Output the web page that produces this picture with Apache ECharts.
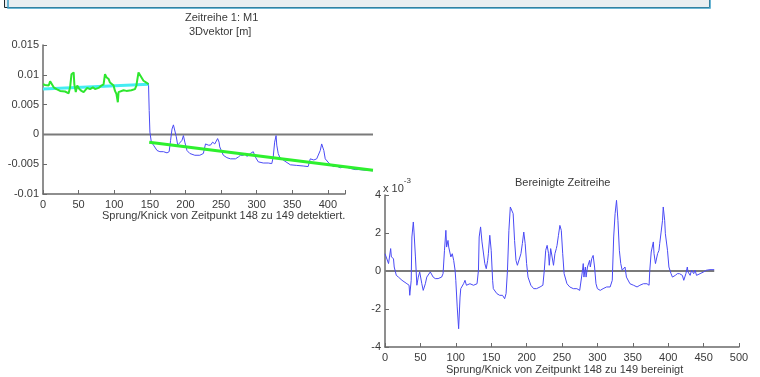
<!DOCTYPE html>
<html>
<head>
<meta charset="utf-8">
<script src="https://cdn.jsdelivr.net/npm/echarts@6/dist/echarts.min.js"></script>
<style>
  html, body { margin: 0; padding: 0; background: #fff; }
  #main { width: 760px; height: 377px; }
</style>
</head>
<body>
<div id="main"></div>
<script>
// linkes Diagramm: Segment 1 (0..148), Rohdaten gruen
const segOneData = [
  [0, 0.0084], [3, 0.0083], [5, 0.0086], [8, 0.0082], [10, 0.0089], [12, 0.0086], [15, 0.0079],
  [19, 0.0076], [24, 0.0073], [31, 0.0072], [36, 0.0069], [38, 0.0079], [40, 0.0101], [43, 0.0104],
  [44, 0.0084], [46, 0.0071], [48, 0.0082], [51, 0.0076], [54, 0.0073], [57, 0.0071], [59, 0.0074],
  [62, 0.0078], [66, 0.0076], [70, 0.0079], [73, 0.0076], [78, 0.0078], [80, 0.0079], [82, 0.0082],
  [85, 0.0084], [87, 0.0101], [89, 0.0096], [92, 0.0093], [94, 0.0087], [99, 0.0082], [101, 0.0073],
  [103, 0.0068], [105, 0.0054], [106, 0.0071], [108, 0.0073], [113, 0.0074], [117, 0.0073],
  [124, 0.0074], [129, 0.0076], [131, 0.0082], [134, 0.0104], [136, 0.0101], [138, 0.0096],
  [141, 0.009], [145, 0.0087], [147, 0.0086], [148, 0.0084]
];
// Segment 2 (148..463), Rohdaten blau
const segTwoData = [
  [148, 0.0086], [149, 0.004], [150, 0.0004], [152, -0.0013], [155, -0.0018], [160, -0.0027],
  [164, -0.0029], [169, -0.0029], [174, -0.0031], [177, -0.0029], [179, -0.001], [181, 0.0009],
  [183, 0.0016], [185, 0.0015], [187, -0.0004], [189, -0.0018], [191, -0.0018], [195, -0.001],
  [197, -0.0002], [199, -0.0013], [202, -0.0027], [206, -0.0032], [213, -0.0035], [220, -0.0035],
  [225, -0.0032], [228, -0.0016], [230, -0.0013], [232, -0.0018], [234, -0.0016], [235, -0.0018],
  [238, -0.0013], [241, -0.0016], [245, -0.0007], [247, -0.0013], [248, -0.0021], [253, -0.0035],
  [258, -0.0039], [263, -0.0041], [270, -0.0041], [274, -0.0038], [277, -0.0035], [281, -0.0035],
  [284, -0.0032], [286, -0.0037], [288, -0.0035], [291, -0.0032], [293, -0.0035], [295, -0.0029],
  [298, -0.0038], [302, -0.0046], [309, -0.0048], [316, -0.0048], [321, -0.0049], [323, -0.0038],
  [325, -0.0013], [327, -0.0002], [328, -0.0018], [330, -0.0032], [332, -0.0038], [337, -0.0043],
  [347, -0.0051], [356, -0.0052], [365, -0.0053], [372, -0.0054], [375, -0.0041], [377, -0.0038],
  [380, -0.0043], [384, -0.0041], [389, -0.0027], [391, -0.0016], [394, -0.0027], [396, -0.0041],
  [401, -0.0048], [405, -0.0052], [408, -0.0054], [412, -0.0053], [417, -0.0056], [419, -0.0057],
  [424, -0.0054], [431, -0.0057], [438, -0.0059], [443, -0.0059], [452, -0.006], [463, -0.0061]
];
// Trendgeraden
const fitOneData = [[0, 0.0076], [148, 0.0084]];
const fitTwoData = [[149, -0.0013], [463, -0.006]];
const zeroLeft = [[0, 0], [463, 0]];
const zeroRight = [[0, 0], [465, 0]];

// rechtes Diagramm: bereinigte Zeitreihe (x 10^-3)
const cleanData = [
  [0, 0.91], [2, 0.82], [5, 0.39], [6, 0.3], [8, 1.18], [9, 0.74], [12, 0.65], [13, 0.21], [16, -0.23],
  [19, -0.32], [24, -0.49], [31, -0.67], [34, -0.75], [35, -1.28], [37, -0.49], [38, 1.79], [40, 2.58],
  [41, 2.05], [43, 0.74], [45, -0.75], [47, -0.32], [49, -0.05], [52, -0.67], [54, -1.02], [57, -0.67],
  [59, -0.32], [64, -0.05], [66, 0.04], [68, -0.32], [71, -0.4], [75, -0.4], [80, -0.32], [82, -0.14],
  [84, 1.09], [86, 2.14], [87, 1.26], [89, 1.61], [90, 1.26], [93, 0.74], [95, 0.91], [97, 0.56],
  [99, 0.04], [100, -0.49], [102, -1.89], [104, -3.04], [106, -1.37], [107, -0.93], [111, -0.67],
  [113, -0.49], [115, -0.75], [120, -0.67], [125, -0.75], [130, -0.67], [132, 0.04], [133, 1.79],
  [135, 2.32], [137, 1.53], [139, 1.44], [141, 0.39], [143, 0.12], [145, 0.56], [146, 0.91], [148, 1.88],
  [150, 1.09], [152, -0.49], [153, -0.93], [158, -1.19], [162, -1.28], [166, -1.28], [169, -1.46],
  [171, -1.19], [173, 0.04], [175, 2.14], [177, 3.37], [179, 3.37], [181, 3.02], [183, 1.61], [185, 0.56],
  [187, 0.3], [189, 0.39], [192, 0.91], [194, 1.44], [196, 2.05], [198, 1.44], [200, 0.39], [202, -0.32],
  [206, -0.75], [210, -0.93], [214, -0.93], [219, -0.84], [223, -0.75], [225, 0.04], [227, 1.09],
  [229, 1.35], [231, 0.91], [232, 0.3], [234, 1.18], [236, 1.09], [238, 0.3], [240, 0.91], [242, 1.18],
  [243, 1.35], [245, 1.88], [247, 2.4], [249, 2.14], [251, 0.91], [253, -0.14], [257, -0.67], [261, -0.84],
  [266, -0.93], [271, -0.93], [275, -1.02], [277, -1.11], [279, 0.04], [280, 0.39], [281, -0.32],
  [283, 0.21], [284, -0.32], [286, 0.21], [289, 0.56], [290, 0.21], [292, 0.65], [294, 0.82], [296, 0.21],
  [298, -0.67], [300, -0.93], [304, -1.02], [308, -0.93], [313, -0.84], [315, -0.75], [318, -0.84],
  [321, -0.49], [323, 1.79], [325, 3.02], [327, 3.72], [329, 2.67], [331, 1.09], [333, 0.39], [335, 0.04],
  [337, 0.12], [339, 0.21], [341, -0.32], [346, -0.67], [351, -0.75], [356, -0.84], [360, -0.75],
  [365, -0.67], [370, -0.67], [373, -0.75], [374, 0.04], [376, 1.0], [378, 0.91], [379, 1.53], [380, 0.91],
  [382, 0.39], [385, 0.91], [387, 1.09], [388, 1.44], [390, 2.05], [392, 2.67], [393, 3.37], [395, 2.67],
  [396, 1.96], [399, 1.09], [401, 0.21], [404, -0.14], [406, -0.32], [410, -0.23], [413, -0.14],
  [416, -0.14], [418, -0.05], [420, -0.23], [422, -0.49], [425, -0.14], [427, 0.21], [428, -0.05],
  [431, -0.23], [433, 0.04], [436, -0.14], [438, 0.04], [440, -0.23], [445, -0.14], [450, -0.05],
  [454, 0.04], [459, 0.07], [465, 0.07]
];

const FONT = 'Liberation Sans, Arial, sans-serif';
const TXT = '#3a3a3a';
const AXIS = '#6a6a6a';

const chart = echarts.init(document.getElementById('main'));

function axisCommon() {
  return {
    axisLine: { show: true, onZero: false, lineStyle: { color: AXIS, width: 1.5 } },
    axisTick: { show: true, inside: true, length: 4, lineStyle: { color: AXIS } },
    splitLine: { show: false },
    axisLabel: { color: TXT, fontFamily: FONT, fontSize: 11, margin: 5 }
  };
}

const hiddenAxis = {
  show: false, axisLine: { show: false }, axisTick: { show: false },
  axisLabel: { show: false }, splitLine: { show: false }
};

// idx = Achsenpaar (0: linke Achsen, 1: rechts, 2: linke Daten ueber 424 hinaus)
function line(name, data, idx, color, width, z) {
  return {
    name, type: 'line', data, xAxisIndex: idx, yAxisIndex: idx,
    showSymbol: false, symbol: 'none', clip: false, animation: false, z: z,
    lineStyle: { color, width }
  };
}

const leftX = axisCommon();
leftX.axisLabel.formatter = (v) => (v % 50 === 0 ? String(v) : '');
const leftY = axisCommon();
leftY.axisLabel.margin = 4;
const rightX = axisCommon();
const rightY = axisCommon();
rightY.axisLabel.margin = 4;

chart.setOption({
  animation: false,
  grid: [
    { left: 43, top: 45, width: 302, height: 149 },
    { left: 385, top: 195, width: 354, height: 152 },
    { left: 43, top: 45, width: 330, height: 149 }
  ],
  xAxis: [
    Object.assign({ type: 'value', gridIndex: 0, min: 0, max: 424, interval: 50 }, leftX),
    Object.assign({ type: 'value', gridIndex: 1, min: 0, max: 500, interval: 50 }, rightX),
    Object.assign({ type: 'value', gridIndex: 2, min: 0, max: 463 }, hiddenAxis)
  ],
  yAxis: [
    Object.assign({ type: 'value', gridIndex: 0, min: -0.01, max: 0.015, interval: 0.005 }, leftY),
    Object.assign({ type: 'value', gridIndex: 1, min: -4, max: 4, interval: 2 }, rightY),
    Object.assign({ type: 'value', gridIndex: 2, min: -0.01, max: 0.015 }, hiddenAxis)
  ],
  series: [
    line('Null links', zeroLeft, 2, '#7a7a7a', 2, 1),
    line('Segment 2', segTwoData, 2, '#4a4af5', 1, 2),
    line('Trend 1', fitOneData, 2, '#45ecf2', 3, 3),
    line('Segment 1', segOneData, 2, '#2ee62e', 2, 4),
    line('Trend 2', fitTwoData, 2, '#2ef02e', 3, 5),
    line('Null rechts', zeroRight, 1, '#7a7a7a', 2, 1),
    line('Bereinigt', cleanData, 1, '#4a4af5', 1, 2)
  ],
  graphic: [
    {
      type: 'rect', left: 4, top: -6, z: 10,
      shape: { width: 705, height: 13 },
      style: { fill: '#e9eef1', stroke: '#1f2b31', lineWidth: 1 }
    },
    {
      type: 'rect', left: 5.5, top: -6, z: 11,
      shape: { width: 702, height: 11.5 },
      style: { fill: 'none', stroke: '#3d9fc6', lineWidth: 1.5 }
    },
    {
      type: 'text', top: 12, left: 185, z: 10,
      style: { text: 'Zeitreihe 1: M1', fill: TXT, font: '11px ' + FONT }
    },
    {
      type: 'text', top: 26, left: 189, z: 10,
      style: { text: '3Dvektor [m]', fill: TXT, font: '11px ' + FONT }
    },
    {
      type: 'text', top: 210, left: 102, z: 10,
      style: { text: 'Sprung/Knick von Zeitpunkt 148 zu 149 detektiert.', fill: TXT, font: '11px ' + FONT }
    },
    {
      type: 'text', top: 177, left: 515, z: 10,
      style: { text: 'Bereinigte Zeitreihe', fill: TXT, font: '11px ' + FONT }
    },
    {
      type: 'text', top: 364, left: 446, z: 10,
      style: { text: 'Sprung/Knick von Zeitpunkt 148 zu 149 bereinigt', fill: TXT, font: '11px ' + FONT }
    },
    {
      type: 'text', top: 177, left: 383, z: 10,
      style: {
        text: '{a|x 10}{b|-3}',
        rich: {
          a: { fill: TXT, fontFamily: FONT, fontSize: 11, verticalAlign: 'bottom', height: 14 },
          b: { fill: TXT, fontFamily: FONT, fontSize: 8, verticalAlign: 'top', height: 14, padding: [0, 0, 8, 0] }
        }
      }
    }
  ]
});
</script>
</body>
</html>
